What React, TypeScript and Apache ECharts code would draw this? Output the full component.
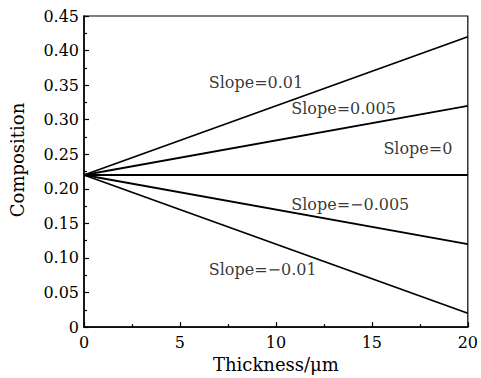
import React, { useEffect, useRef } from "react";
import * as echarts from "echarts";

const thickness = [0, 20];
const slopes = [0.01, 0.005, 0, -0.005, -0.01];
const startComposition = 0.22;
const endComposition = [0.42, 0.32, 0.22, 0.12, 0.02];
const labelTexts = ["Slope=0.01", "Slope=0.005", "Slope=0", "Slope=\u22120.005", "Slope=\u22120.01"];
const labelX = [6.5, 10.8, 15.6, 10.8, 6.5];
const labelY = [0.354, 0.316, 0.259, 0.177, 0.083];

const FONT = "DejaVu Serif";

export default function App() {
  const ref = useRef<HTMLDivElement>(null);
  useEffect(() => {
    document.body.style.margin = "0";
    if (!ref.current) return;
    const chart = echarts.init(ref.current, null, { renderer: "svg" });
    const lineSeries = slopes.map((s, i) => ({
      type: "line",
      name: labelTexts[i],
      data: [
        [thickness[0], startComposition],
        [thickness[1], endComposition[i]],
      ],
      showSymbol: false,
      symbol: "none",
      lineStyle: { color: "#000", width: 1.8 },
      z: 3,
    }));
    const labelSeries = {
      type: "scatter",
      symbolSize: 0,
      data: labelTexts.map((t, i) => ({ value: [labelX[i], labelY[i]], name: t })),
      label: {
        show: true,
        position: "right",
        distance: 0,
        formatter: (p: any) => p.name,
        color: "#000",
        fontFamily: FONT,
        fontSize: 16,
      },
      z: 4,
    };
    chart.setOption({
      animation: false,
      backgroundColor: "#fff",
      grid: {
        left: 84,
        right: 8,
        top: 16,
        bottom: 47,
        show: true,
        borderColor: "#000",
        borderWidth: 1.2,
      },
      graphic: [
        {
          type: "text",
          x: 17.5,
          y: 160,
          rotation: Math.PI / 2,
          style: {
            text: "Composition",
            fill: "#000",
            font: `18px '${FONT}'`,
            align: "center",
            verticalAlign: "middle",
          },
        },
      ],
      xAxis: {
        type: "value",
        min: 0,
        max: 20,
        interval: 5,
        name: "Thickness/\u03bcm",
        nameLocation: "middle",
        nameGap: 26,
        nameTextStyle: { color: "#000", fontFamily: FONT, fontSize: 18 },
        axisLine: { show: true, lineStyle: { color: "#000", width: 1.5 } },
        axisTick: { show: true, inside: true, length: 5, lineStyle: { color: "#000", width: 1.2 } },
        minorTick: { show: true, splitNumber: 2, length: 3, lineStyle: { color: "#000", width: 1.2 } },
        splitLine: { show: false },
        axisLabel: { color: "#000", fontFamily: FONT, fontSize: 16, margin: 7 },
      },
      yAxis: {
        type: "value",
        min: 0,
        max: 0.45,
        interval: 0.05,
        axisLine: { show: true, lineStyle: { color: "#000", width: 1.5 } },
        axisTick: { show: true, inside: true, length: 5, lineStyle: { color: "#000", width: 1.2 } },
        minorTick: { show: true, splitNumber: 2, length: 3, lineStyle: { color: "#000", width: 1.2 } },
        splitLine: { show: false },
        axisLabel: {
          color: "#000",
          fontFamily: FONT,
          fontSize: 16,
          margin: 5,
          formatter: (v: number) => (Math.abs(v) < 1e-9 ? "0" : v.toFixed(2)),
        },
      },
      series: [...lineSeries, labelSeries],
    });
    return () => chart.dispose();
  }, []);
  return <div ref={ref} style={{ width: 481, height: 378 }} />;
}
